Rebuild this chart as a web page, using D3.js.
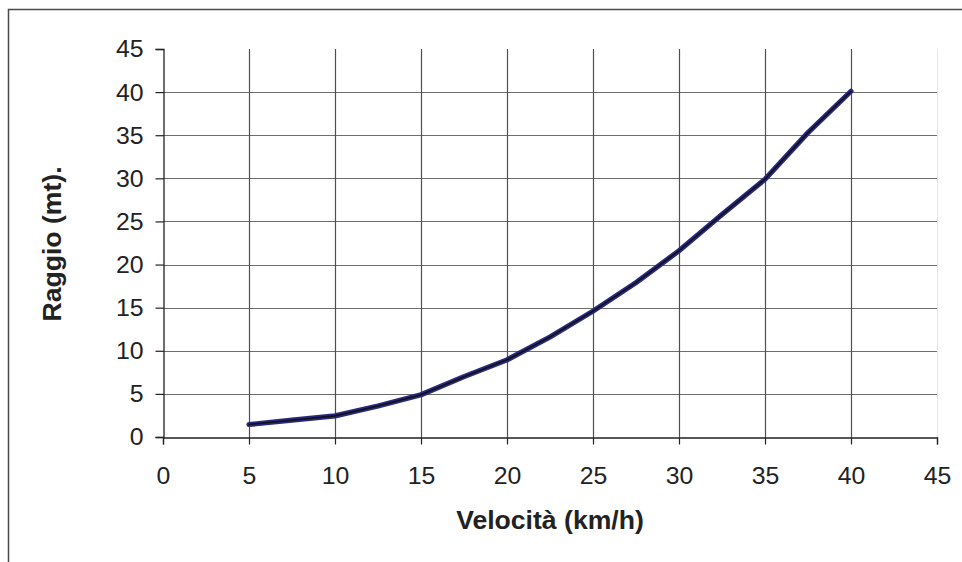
<!DOCTYPE html>
<html>
<head>
<meta charset="utf-8">
<script src="https://cdn.jsdelivr.net/npm/d3@7"></script>
<style>
  html, body { margin: 0; padding: 0; background: #fff; }
  svg { display: block; font-family: "Liberation Sans", Arial, sans-serif; }
</style>
</head>
<body>
<svg id="chart" width="962" height="562"></svg>
<script>
// Data
const velocita = [5, 7.5, 10, 12.5, 15, 17.5, 20, 22.5, 25, 27.5, 30, 32.5, 35, 37.5, 40];
const raggio   = [1.45, 1.95, 2.45, 3.6, 4.9, 7.0, 8.95, 11.6, 14.6, 17.9, 21.6, 25.8, 29.9, 35.3, 40.1];
const xTicks = [0, 5, 10, 15, 20, 25, 30, 35, 40, 45];
const yTicks = [0, 5, 10, 15, 20, 25, 30, 35, 40, 45];
const xTitle = "Velocità (km/h)";
const yTitle = "Raggio (mt).";

(function () {
const svg = d3.select("#chart");
const pLeft = 163, pRight = 937, pTop = 49, pBottom = 437;
const FONT = "\"Liberation Sans\", Arial, sans-serif";

// outer frame
svg.append("rect").attr("x", 8.5).attr("y", 9.5).attr("width", 1200).attr("height", 1200)
  .attr("fill", "none").attr("stroke", "#4a4a4a").attr("stroke-width", 1.5);

const x = d3.scaleLinear().domain([0, 45]).range([pLeft, pRight]);
const y = d3.scaleLinear().domain([0, 45]).range([pBottom, pTop]);

// gridlines
const g = svg.append("g");
g.selectAll("line.h").data(yTicks.filter(v => v > 0 && v < 45)).enter().append("line")
  .attr("x1", pLeft).attr("x2", pRight)
  .attr("y1", d => Math.round(y(d)) + 0.5).attr("y2", d => Math.round(y(d)) + 0.5)
  .attr("stroke", "#6e6e6e").attr("stroke-width", 1.2);
g.selectAll("line.v").data(xTicks.filter(v => v > 0 && v < 45)).enter().append("line")
  .attr("y1", pTop).attr("y2", pBottom)
  .attr("x1", d => Math.round(x(d)) + 0.5).attr("x2", d => Math.round(x(d)) + 0.5)
  .attr("stroke", "#4f4f4f").attr("stroke-width", 1.2);
g.append("line").attr("x1", Math.round(x(45)) + 0.5).attr("x2", Math.round(x(45)) + 0.5)
  .attr("y1", pTop).attr("y2", pBottom).attr("stroke", "#e6e6e6").attr("stroke-width", 1);

// axes
const xAxis = d3.axisBottom(x).tickValues(xTicks).tickSize(7).tickPadding(22);
const yAxis = d3.axisLeft(y).tickValues(yTicks).tickSize(8).tickPadding(12);

const gx = svg.append("g").attr("transform", `translate(0,${Math.round(pBottom) + 0.5})`).call(xAxis);
const gy = svg.append("g").attr("transform", `translate(${pLeft + 0.5},0)`).call(yAxis);
[gx, gy].forEach(a => {
  a.attr("font-size", null).attr("font-family", null);
  a.select(".domain").attr("stroke", "#222").attr("stroke-width", 1.3);
  a.selectAll(".tick line").attr("stroke", "#222").attr("stroke-width", 1.2);
  a.selectAll(".tick text").attr("fill", "#222")
    .style("font-size", "24.8px").style("font-family", FONT);
});
gx.selectAll(".tick text").attr("dy", "0.71em");

// line
const line = d3.line().x((d, i) => x(velocita[i])).y(d => y(d));
svg.append("path").datum(raggio).attr("d", line).attr("fill", "none")
  .attr("stroke", "#282880").attr("stroke-width", 5.2).attr("stroke-linejoin", "round").attr("stroke-linecap", "round");
svg.append("path").datum(raggio).attr("d", line).attr("fill", "none")
  .attr("stroke", "#111").attr("stroke-width", 1.6).attr("stroke-linejoin", "round").attr("stroke-linecap", "round");

// titles
svg.append("text").attr("x", 550).attr("y", 529).attr("text-anchor", "middle")
  .style("font-size", "26.6px").style("font-family", FONT).attr("font-weight", "bold").attr("fill", "#222").text(xTitle);
svg.append("text").attr("transform", "translate(61,244) rotate(-90)").attr("text-anchor", "middle")
  .style("font-size", "26.6px").style("font-family", FONT).attr("font-weight", "bold").attr("fill", "#222").text(yTitle);
})();
</script>
</body>
</html>
